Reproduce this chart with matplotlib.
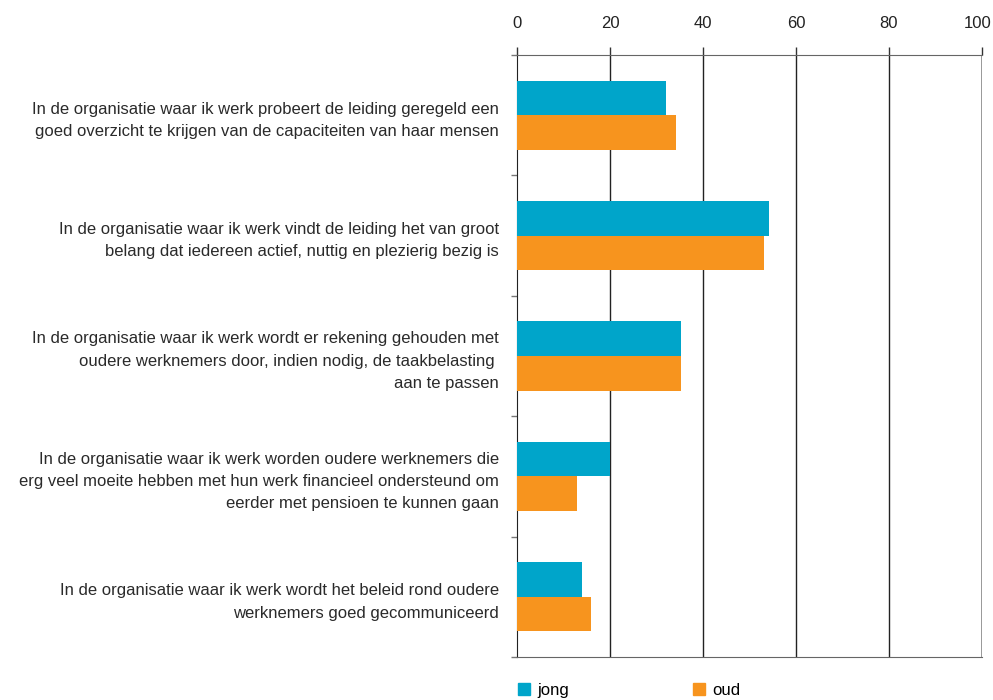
import numpy as np
import matplotlib.pyplot as plt
import matplotlib.transforms as mtransforms
from matplotlib.patches import Patch

plt.rcParams['font.family'] = ['Liberation Sans', 'DejaVu Sans']

statements = [
    'In de organisatie waar ik werk probeert de leiding geregeld een\n'
    'goed overzicht te krijgen van de capaciteiten van haar mensen',
    'In de organisatie waar ik werk vindt de leiding het van groot\n'
    'belang dat iedereen actief, nuttig en plezierig bezig is',
    'In de organisatie waar ik werk wordt er rekening gehouden met\n'
    'oudere werknemers door, indien nodig, de taakbelasting \n'
    'aan te passen',
    'In de organisatie waar ik werk worden oudere werknemers die\n'
    'erg veel moeite hebben met hun werk financieel ondersteund om\n'
    'eerder met pensioen te kunnen gaan',
    'In de organisatie waar ik werk wordt het beleid rond oudere\n'
    'werknemers goed gecommuniceerd',
]
jong = [32.1, 54.1, 35.2, 20.0, 14.0]
oud = [34.1, 53.1, 35.2, 13.0, 16.0]
series_names = ['jong', 'oud']
colors = ['#00A5CA', '#F7941E']
xticks = [0, 20, 40, 60, 80, 100]

fig = plt.figure(figsize=(9.93, 7.0), dpi=100)
ax = fig.add_axes([0.5207, 0.0614, 0.4682, 0.86])

n = len(statements)
centers = np.arange(n) + 0.5
h = 0.287
ax.barh(centers - h / 2, jong, height=h, color=colors[0], zorder=3)
ax.barh(centers + h / 2, oud, height=h, color=colors[1], zorder=3)

ax.set_xlim(0, 100)
ax.set_ylim(n, 0)

# x axis on top, ticks pointing up
ax.xaxis.tick_top()
ax.set_xticks(xticks)
ax.set_xticklabels([str(t) for t in xticks], fontsize=12, color='#222222')
ax.tick_params(axis='x', direction='out', length=6, width=1,
               color='#333333', pad=11.5)
for t in xticks[1:-1]:
    ax.axvline(t, color='#222222', lw=1, zorder=1)
ax.axvline(100, color='#888888', lw=1.2, zorder=1)

# keep the "100" inside the figure
last = ax.get_xticklabels()[-1]
shift = mtransforms.ScaledTranslation(-4 / 100, 0, fig.dpi_scale_trans)
last.set_transform(last.get_transform() + shift)

# category boundaries as ticks, labels centred between them
ax.set_yticks(np.arange(n + 1))
ax.set_yticklabels([])
ax.tick_params(axis='y', which='major', direction='out', length=4,
               width=1, color='#777777')
ax.set_yticks(centers, minor=True)
ax.set_yticklabels(statements, minor=True, fontsize=12,
                   color='#2a2a2a', linespacing=1.6)
ax.tick_params(axis='y', which='minor', length=0, pad=13)

ax.spines['left'].set_color('#222222')
ax.spines['top'].set_color('#666666')
ax.spines['bottom'].set_color('#666666')
ax.spines['right'].set_visible(False)

handles = [Patch(color=c, label=s) for c, s in zip(colors, series_names)]
ax.legend(handles=handles, loc='upper left', bbox_to_anchor=(0.0026, -0.043),
          ncol=2, frameon=False, fontsize=12, handlelength=0.72,
          handleheight=0.7, handletextpad=0.42, columnspacing=7.45,
          borderaxespad=0, borderpad=0)

fig.savefig('out.png', dpi=100)
